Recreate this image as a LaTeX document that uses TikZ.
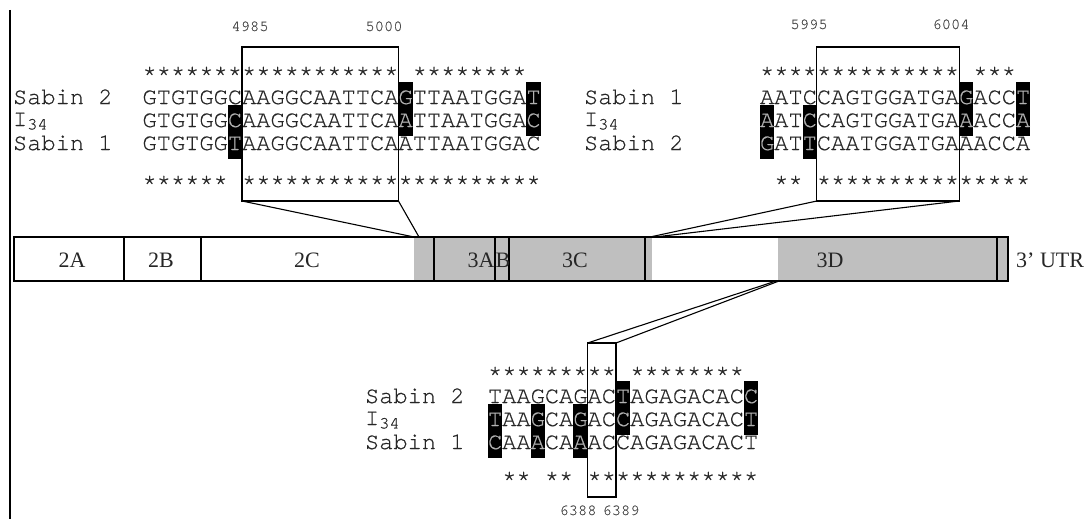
\documentclass[tikz,border=0pt]{standalone}
\usepackage{fontspec}
\setmainfont{Liberation Serif}
\newfontfamily\seqfont[FakeBold=0.5]{TeX Gyre Cursor}
\newcommand\hl[1]{\textcolor{black!30}{#1}}
\newcommand\gp{\phantom{*}}
\newcommand\subn[1]{\raisebox{-0.35ex}{\fontsize{17}{17}\selectfont #1}}
\newcommand\pp{14.22}
\begin{document}
\begin{tikzpicture}[x=1pt,y=-1pt,
 seq/.style={inner sep=0pt,outer sep=0pt,anchor=base west,text=black!85,font=\seqfont\fontsize{23.7}{24}\selectfont},
 num/.style={inner sep=0pt,anchor=base,text=black!70,font=\seqfont\fontsize{15.5}{16}\selectfont},
 seg/.style={inner sep=0pt,anchor=base,text=black!85,font=\fontsize{22}{22}\selectfont},
 frame/.style={draw=black,line width=1.1pt,inner sep=0pt,outer sep=0pt,fill=none,anchor=north west},
 conn/.style={draw=black,line width=1.1pt},
 hlc/.style={fill=black},
 barline/.style={draw=black,line width=1.1pt},
]
\useasboundingbox (0,0) rectangle (1086,519);
\fill[white] (0,0) rectangle (1086,519);
% left border line
\coordinate (lt) at (10,10);
\coordinate (lb) at (10,519);
\draw[line width=1.4pt] (lt) -- (lb);

% ---------- top-left alignment ----------
\def\xa{142.5}
\fill[hlc] ({\xa+6*\pp},105) rectangle ({\xa+7*\pp},159);
\fill[hlc] ({\xa+18*\pp},82) rectangle ({\xa+19*\pp},136);
\fill[hlc] ({\xa+27*\pp},82) rectangle ({\xa+28*\pp},136);
\node[seq] (a0) at (\xa,81) {******************\gp********};
\node[seq] (a1) at (\xa,104) {GTGTGGCAAGGCAATTCA\hl{G}TTAATGGA\hl{T}};
\node[seq] (a2) at (\xa,127) {GTGTGG\hl{C}AAGGCAATTCA\hl{A}TTAATGGA\hl{C}};
\node[seq] (a3) at (\xa,150) {GTGTGG\hl{T}AAGGCAATTCAATTAATGGAC};
\node[seq] (a4) at (\xa,190) {******\gp*********************};
\node[seq] (la1) at (13,104) {Sabin 2};
\node[seq] (la2) at (13,126) {I\subn{34}};
\node[seq] (la3) at (13,150) {Sabin 1};
\node[num] (na1) at (250,31) {4985};
\node[num] (na2) at (384,31) {5000};
\node[frame,minimum width={11*\pp},minimum height=154] (boxA) at ({\xa+7*\pp},47) {};

% ---------- top-right alignment ----------
\def\xb{760}
\fill[hlc] ({\xb+0*\pp},105) rectangle ({\xb+1*\pp},159);
\fill[hlc] ({\xb+3*\pp},105) rectangle ({\xb+4*\pp},159);
\fill[hlc] ({\xb+14*\pp},82) rectangle ({\xb+15*\pp},136);
\fill[hlc] ({\xb+18*\pp},82) rectangle ({\xb+19*\pp},136);
\node[seq] (b0) at (\xb,81) {**************\gp***};
\node[seq] (b1) at (\xb,104) {AATCCAGTGGATGA\hl{G}ACC\hl{T}};
\node[seq] (b2) at (\xb,127) {\hl{A}AT\hl{C}CAGTGGATGA\hl{A}ACC\hl{A}};
\node[seq] (b3) at (\xb,150) {\hl{G}AT\hl{T}CAATGGATGAAACCA};
\node[seq] (b4) at (\xb,190) {\gp**\gp***************};
\node[seq] (lb1) at (584,104) {Sabin 1};
\node[seq] (lb2) at (584,126) {I\subn{34}};
\node[seq] (lb3) at (584,150) {Sabin 2};
\node[num] (nb1) at (809,29) {5995};
\node[num] (nb2) at (951,29) {6004};
\node[frame,minimum width={10*\pp},minimum height=154] (boxB) at ({\xb+4*\pp},47) {};

% ---------- bottom alignment ----------
\def\xc{488}
\fill[hlc] ({\xc+9*\pp},381) rectangle ({\xc+10*\pp},435);
\fill[hlc] ({\xc+18*\pp},381) rectangle ({\xc+19*\pp},435);
\fill[hlc] ({\xc+0*\pp},404) rectangle ({\xc+1*\pp},458);
\fill[hlc] ({\xc+3*\pp},404) rectangle ({\xc+4*\pp},458);
\fill[hlc] ({\xc+6*\pp},404) rectangle ({\xc+7*\pp},458);
\node[seq] (c0) at (\xc,381) {*********\gp********};
\node[seq] (c1) at (\xc,403) {TAAGCAGAC\hl{T}AGAGACAC\hl{C}};
\node[seq] (c2) at (\xc,426) {\hl{T}AA\hl{G}CA\hl{G}AC\hl{C}AGAGACAC\hl{T}};
\node[seq] (c3) at (\xc,449) {\hl{C}AA\hl{A}CA\hl{A}ACCAGAGACACT};
\node[seq] (c4) at (\xc,486) {\gp**\gp**\gp************};
\node[seq] (lc1) at (365,403) {Sabin 2};
\node[seq] (lc2) at (365,425) {I\subn{34}};
\node[seq] (lc3) at (365,449) {Sabin 1};
\node[frame,minimum width={2*\pp},minimum height=154] (boxC) at ({\xc+7*\pp},343) {};
\node[num] (nc1) at (578,515) {6388};
\node[num] (nc2) at (621,515) {6389};

% ---------- genome bar ----------
\fill[gray!50] (414,237) rectangle (652,281);
\fill[gray!50] (778,237) rectangle (1008,281);
\draw[barline] (14,237) rectangle (1008,281);
\foreach \x in {124,201,434,495,509,645,997} \draw[barline] (\x,237) -- (\x,281);
\node[seg] (s2a) at (72,267) {2A};
\node[seg] (s2b) at (161,267) {2B};
\node[seg] (s2c) at (307,267) {2C};
\node[seg] (s3a) at (481,267) {3A};
\node[seg] (s3b) at (503,267) {B};
\node[seg] (s3c) at (575,267) {3C};
\node[seg] (s3d) at (830,267) {3D};
\node[seg,anchor=base west] (utr) at (1016,267) {3’ UTR};

% ---------- connectors ----------
\coordinate (pA1) at (414,237);
\coordinate (pA2) at (419,237);
\coordinate (pB1) at (650,237);
\coordinate (pB2) at (655,237);
\coordinate (pC1) at (776,281);
\coordinate (pC2) at (779,281);
\draw[conn] (boxA.south west) -- (pA1);
\draw[conn] (boxA.south east) -- (pA2);
\draw[conn] (boxB.south west) -- (pB1);
\draw[conn] (boxB.south east) -- (pB2);
\draw[conn] (boxC.north west) -- (pC1);
\draw[conn] (boxC.north east) -- (pC2);
\end{tikzpicture}
\end{document}
